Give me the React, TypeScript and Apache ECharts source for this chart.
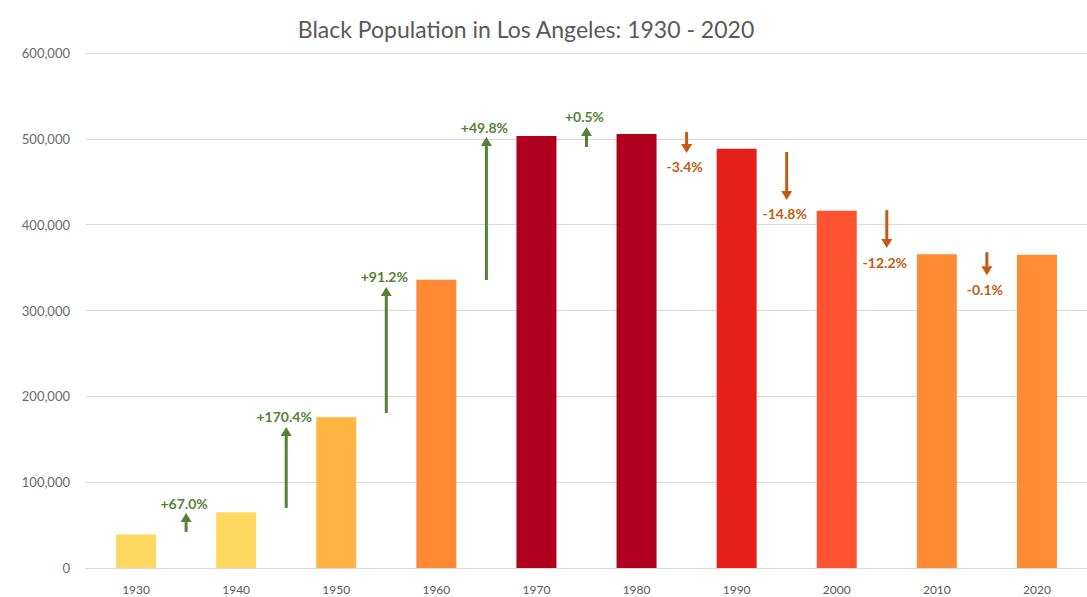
import React, { useEffect, useRef } from "react";
import * as echarts from "echarts";

const titleText = "Black Population in Los Angeles: 1930 - 2020";
const years = ["1930", "1940", "1950", "1960", "1970", "1980", "1990", "2000", "2010", "2020"];
const population = [38900, 65000, 175700, 335900, 503200, 505700, 488500, 416200, 365400, 365000];
const barColors = ["#FFD862", "#FFD862", "#FFB443", "#FF8A33", "#B1001F", "#B1001F", "#E5201B", "#FF5230", "#FF8C35", "#FF8C35"];

// arrows sit between consecutive decades
const changeLabels = ["+67.0%", "+170.4%", "+91.2%", "+49.8%", "+0.5%", "-3.4%", "-14.8%", "-12.2%", "-0.1%"];
const arrowFrom = [42000, 70000, 180600, 335500, 490500, 508000, 484700, 417000, 368000];
const arrowTo = [64000, 164300, 327400, 502000, 513800, 483500, 428800, 372800, 341000];

const GREEN = "#548235";
const ORANGE = "#C55A11";
const FONT = "Lato, 'Noto Sans', sans-serif";

export default function App() {
  const ref = useRef<HTMLDivElement | null>(null);

  useEffect(() => {
    if (!ref.current) return;
    const chart = echarts.init(ref.current, undefined, { renderer: "svg" });

    const arrowData = changeLabels.map((_, i) => [i, arrowFrom[i], arrowTo[i]]);

    chart.setOption({
      animation: false,
      backgroundColor: "#FFFFFF",
      textStyle: { fontFamily: FONT },
      title: {
        text: titleText,
        left: 521,
        top: 12,
        textAlign: "center",
        textStyle: { fontFamily: FONT, fontSize: 23, fontWeight: "normal", color: "#595959" },
      },
      grid: { left: 86, top: 53, width: 1009, height: 515, containLabel: false },
      xAxis: {
        type: "category",
        data: years,
        boundaryGap: true,
        axisLine: { show: true, lineStyle: { color: "#D9D9D9", width: 1 } },
        axisTick: { show: false },
        axisLabel: { color: "#595959", fontSize: 12, margin: 15, fontFamily: FONT },
        splitLine: { show: false },
      },
      yAxis: {
        type: "value",
        min: 0,
        max: 600000,
        interval: 100000,
        axisLine: { show: false },
        axisTick: { show: false },
        axisLabel: {
          color: "#6A6A6A",
          fontSize: 13,
          margin: 16,
          fontFamily: FONT,
          formatter: (v: number) => v.toLocaleString("en-US"),
        },
        splitLine: { lineStyle: { color: "#D9D9D9", width: 1 } },
      },
      series: [
        {
          type: "bar",
          data: population.map((v, i) => ({ value: v, itemStyle: { color: barColors[i] } })),
          barWidth: 40,
        },
        {
          type: "custom",
          data: arrowData,
          encode: { x: 0, y: [1, 2] },
          z: 5,
          renderItem: (params: any, api: any) => {
            const i = api.value(0);
            const from = api.value(1);
            const to = api.value(2);
            const p0 = api.coord([i, from]);
            const p1 = api.coord([i, to]);
            const half = api.size([1, 0])[0] / 2;
            const x = p0[0] + half;
            const up = to > from;
            const color = up ? GREEN : ORANGE;
            const dir = up ? -1 : 1;
            const headLen = 9;
            const headW = 5.5;
            const y0 = p0[1];
            const y1 = p1[1];
            const shaftEnd = y1 - dir * headLen;
            return {
              type: "group",
              children: [
                {
                  type: "line",
                  shape: { x1: x, y1: y0, x2: x, y2: shaftEnd },
                  style: { stroke: color, lineWidth: 3 },
                },
                {
                  type: "polygon",
                  shape: { points: [[x - headW, shaftEnd], [x + headW, shaftEnd], [x, y1]] },
                  style: { fill: color },
                },
                {
                  type: "text",
                  x: x - 2,
                  y: up ? y1 - 10 : y1 + 14,
                  style: {
                    text: changeLabels[params.dataIndex],
                    fill: color,
                    font: `bold 14px ${FONT}`,
                    align: "center",
                    verticalAlign: "middle",
                  },
                },
              ],
            };
          },
        },
      ],
    });

    return () => {
      chart.dispose();
    };
  }, []);

  return (
    <div
      ref={ref}
      style={{ position: "absolute", left: 0, top: 0, width: 1087, height: 597 }}
    />
  );
}
